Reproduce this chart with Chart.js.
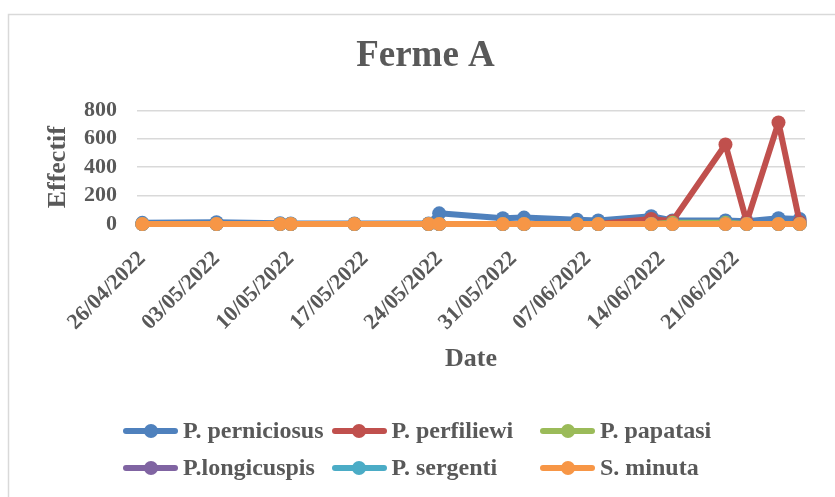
<!DOCTYPE html>
<html>
<head>
<meta charset="utf-8">
<script src="https://cdn.jsdelivr.net/npm/chart.js@4.4.1/dist/chart.umd.min.js"></script>
<style>
  html, body { margin: 0; padding: 0; background: #ffffff; }
  #wrap { position: relative; width: 835px; height: 497px; overflow: hidden; }
  #c { position: absolute; left: 0; top: 0; }
  #legend {
    position: absolute; left: 123px; top: 412px;
    display: grid; grid-template-columns: 208.5px 208.5px 208.5px;
    grid-auto-rows: 37px;
    font-family: 'Liberation Serif', serif; font-weight: bold; font-size: 24px; color: #595959;
  }
  .item { display: flex; align-items: center; white-space: nowrap; }
  .sample { position: relative; width: 55px; height: 6px; border-radius: 3px; margin-right: 5px; flex: none; }
  .sample::after {
    content: ''; position: absolute; left: 20.5px; top: -4px; width: 14px; height: 14px;
    border-radius: 50%; background: inherit;
  }
</style>
</head>
<body>
<div id="wrap">
  <canvas id="c" width="835" height="497"></canvas>
  <div id="legend"></div>
</div>
<script>
// ---- Data ----
const chartTitle = 'Ferme A';
const xAxisTitle = 'Date';
const yAxisTitle = 'Effectif';
const sampleDates = ['26/04/2022','03/05/2022','09/05/2022','10/05/2022','16/05/2022','23/05/2022','24/05/2022',
  '30/05/2022','01/06/2022','06/06/2022','08/06/2022','13/06/2022','15/06/2022','20/06/2022','22/06/2022',
  '25/06/2022','27/06/2022'];
const xTickLabels = ['26/04/2022','03/05/2022','10/05/2022','17/05/2022','24/05/2022','31/05/2022','07/06/2022','14/06/2022','21/06/2022'];
const yTicks = [0, 200, 400, 600, 800];
const seriesNames = ['P. perniciosus','P. perfiliewi','P. papatasi','P.longicuspis','P. sergenti','S. minuta'];
const seriesColors = ['#4F81BD','#C0504D','#9BBB59','#8064A2','#4BACC6','#F79646'];
const pPerniciosus = [8, 12, 6, 3, 3, 4, 75, 40, 45, 30, 25, 55, 25, 25, 20, 40, 35];
const pPerfiliewi  = [0, 0, 0, 0, 0, 0, 0, 0, 0, 0, 0, 35, 20, 560, 15, 715, 12];
const pPapatasi    = [0, 0, 0, 0, 0, 0, 0, 0, 0, 0, 0, 0, 8, 8, 0, 0, 0];
const pLongicuspis = [0, 0, 0, 0, 0, 0, 0, 0, 0, 0, 0, 0, 0, 0, 0, 0, 0];
const pSergenti    = [0, 0, 0, 0, 0, 0, 0, 0, 0, 0, 0, 0, 0, 0, 0, 0, 0];
const sMinuta      = [0, 0, 0, 0, 0, 0, 0, 0, 0, 0, 0, 0, 0, 0, 0, 0, 0];
const seriesValues = [pPerniciosus, pPerfiliewi, pPapatasi, pLongicuspis, pSergenti, sMinuta];

// ---- helpers ----
function parseDay(s) {
  const [d, m, y] = s.split('/').map(Number);
  return Date.UTC(y, m - 1, d) / 86400000;
}
const day0 = parseDay(sampleDates[0]);
const xs = sampleDates.map(s => parseDay(s) - day0);
const xTickValues = xTickLabels.map(s => parseDay(s) - day0);

const TXT = '#595959';
const FONT = 'Liberation Serif';

const datasets = seriesNames.map((name, i) => ({
  label: name,
  data: xs.map((x, j) => ({ x: x, y: seriesValues[i][j] })),
  borderColor: seriesColors[i],
  backgroundColor: seriesColors[i],
  pointBackgroundColor: seriesColors[i],
  pointBorderColor: seriesColors[i],
  pointBorderWidth: 0,
  pointRadius: 7,
  borderWidth: 6,
  borderJoinStyle: 'round',
  borderCapStyle: 'round',
  tension: 0,
  clip: false,
  order: seriesNames.length - i
}));

const borderPlugin = {
  id: 'outerBorder',
  beforeDraw(chart) {
    const ctx = chart.ctx;
    ctx.save();
    ctx.fillStyle = '#ffffff';
    ctx.fillRect(0, 0, chart.width, chart.height);
    ctx.strokeStyle = '#d9d9d9';
    ctx.lineWidth = 1.5;
    ctx.strokeRect(8.5, 14.5, 900, 600);
    ctx.restore();
  }
};

const chart = new Chart(document.getElementById('c'), {
  type: 'line',
  data: { datasets },
  plugins: [borderPlugin],
  options: {
    responsive: false,
    animation: false,
    events: [],
    layout: { padding: { left: 46, right: 30, top: 0, bottom: 91.5 } },
    plugins: {
      title: {
        display: true,
        text: chartTitle,
        color: TXT,
        font: { family: FONT, size: 37, weight: 'bold' },
        padding: { top: 34, bottom: 32 }
      },
      legend: { display: false },
      tooltip: { enabled: false }
    },
    scales: {
      x: {
        type: 'linear',
        min: -0.5,
        max: 62.5,
        afterBuildTicks(scale) { scale.ticks = xTickValues.map(v => ({ value: v })); },
        afterFit(scale) { scale.height = 181.5; },
        grid: { display: false, drawTicks: false },
        border: { display: true, color: '#d9d9d9' },
        ticks: {
          autoSkip: false,
          minRotation: 45,
          maxRotation: 45,
          padding: 22,
          color: TXT,
          font: { family: FONT, size: 22, weight: 'bold' },
          callback(v) {
            const k = xTickValues.indexOf(v);
            return k >= 0 ? xTickLabels[k] : '';
          }
        },
        title: {
          display: true,
          text: xAxisTitle,
          color: TXT,
          font: { family: FONT, size: 26, weight: 'bold' },
          padding: { top: 0, bottom: 31 }
        }
      },
      y: {
        min: 0,
        max: 800,
        afterBuildTicks(scale) { scale.ticks = yTicks.map(v => ({ value: v })); },
        afterFit(scale) { scale.width = 91; },
        grid: { color: '#d9d9d9', lineWidth: 1.5, drawTicks: false },
        border: { display: false },
        ticks: {
          autoSkip: false,
          padding: 20,
          color: TXT,
          font: { family: FONT, size: 22, weight: 'bold' }
        },
        title: {
          display: true,
          text: yAxisTitle,
          color: TXT,
          font: { family: FONT, size: 26, weight: 'bold' },
          padding: { top: -3.6, bottom: 0 }
        }
      }
    }
  }
});

// HTML legend built from the chart's datasets
const legendEl = document.getElementById('legend');
chart.data.datasets.forEach(ds => {
  const item = document.createElement('div');
  item.className = 'item';
  const sw = document.createElement('span');
  sw.className = 'sample';
  sw.style.background = ds.borderColor;
  const tx = document.createElement('span');
  tx.textContent = ds.label;
  item.appendChild(sw);
  item.appendChild(tx);
  legendEl.appendChild(item);
});
</script>
</body>
</html>
